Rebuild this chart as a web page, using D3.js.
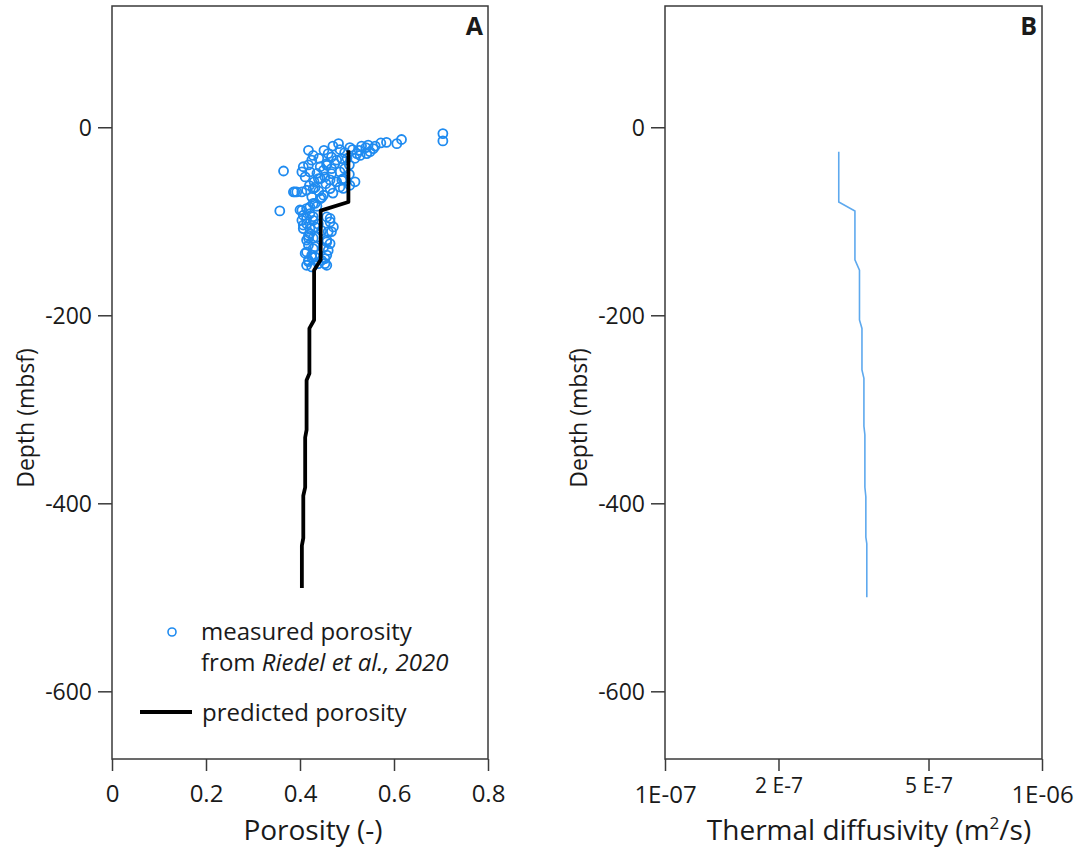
<!DOCTYPE html>
<html>
<head>
<meta charset="utf-8">
<script src="https://cdn.jsdelivr.net/npm/d3@7"></script>
<style>
  html, body { margin: 0; padding: 0; background: #fff; }
  svg { display: block; }
  text { font-family: "Open Sans", "Noto Sans", sans-serif; fill: #1a1a1a; }
</style>
</head>
<body>
<svg id="chart" width="1080" height="854"></svg>
<script>
// Measured porosity (Riedel et al., 2020): porosity (-) and depth (mbsf)
const measuredPorosity = [
  0.704, 0.704, 0.616, 0.606, 0.584, 0.572, 0.560, 0.545, 0.540, 0.531, 0.526, 0.521, 0.512, 0.506,
  0.517, 0.528, 0.549, 0.556, 0.542, 0.482, 0.485, 0.451, 0.418, 0.428, 0.425, 0.467, 0.478, 0.457,
  0.443, 0.407, 0.404, 0.365, 0.421, 0.436, 0.450, 0.467, 0.485, 0.492, 0.517, 0.478, 0.464, 0.453,
  0.439, 0.411, 0.485, 0.464, 0.492, 0.432, 0.414, 0.404, 0.393, 0.386, 0.425, 0.446, 0.428, 0.414,
  0.357, 0.400, 0.407, 0.421, 0.457, 0.464, 0.404, 0.414, 0.428, 0.432, 0.407, 0.471, 0.467, 0.421,
  0.428, 0.414, 0.457, 0.464, 0.418, 0.432, 0.460, 0.414, 0.425, 0.457, 0.418, 0.446, 0.453, 0.414,
  0.425, 0.439, 0.489, 0.457, 0.474, 0.467, 0.443, 0.489, 0.389, 0.428, 0.450, 0.506, 0.436, 0.446,
  0.418, 0.432, 0.450, 0.439,
  0.404, 0.421, 0.432, 0.443, 0.414, 0.428, 0.464, 0.460, 0.421, 0.407, 0.418, 0.436, 0.457, 0.428,
  0.411, 0.425, 0.453, 0.418, 0.457, 0.470, 0.495, 0.460, 0.500, 0.505, 0.495, 0.505, 0.440, 0.418,
  0.430, 0.420, 0.455, 0.470, 0.440
];
const measuredDepth = [
  -6.7, -14.5, -13.0, -17.4, -16.0, -16.7, -20.0, -19.0, -21.6, -20.0, -24.5, -28.0, -23.7, -21.6,
  -33.0, -30.0, -26.0, -22.7, -28.0, -17.4, -23.7, -24.5, -24.5, -30.0, -35.0, -31.6, -35.0, -38.7,
  -42.0, -42.0, -47.5, -46.5, -47.5, -49.0, -45.7, -44.0, -47.5, -54.6, -58.0, -58.0, -56.0, -52.8,
  -54.6, -52.8, -63.5, -65.2, -65.0, -64.0, -67.0, -68.8, -68.8, -68.8, -74.0, -74.8, -81.0, -86.5,
  -89.0, -88.0, -93.6, -91.8, -95.4, -100.7, -99.0, -102.5, -99.0, -106.0, -107.8, -106.0, -111.0, -113.0,
  -118.0, -120.0, -120.0, -123.7, -125.5, -127.0, -131.0, -132.7, -136.0, -136.0, -141.5, -141.5, -145.0, -146.8,
  -148.6, -145.0, -33.3, -40.4, -38.6, -49.3, -54.6, -56.4, -68.8, -65.2, -72.3, -61.7, -84.0, -110.0,
  -115.0, -138.0, -128.0, -103.0,
  -88.3, -84.8, -81.0, -75.9, -97.0, -95.0, -97.0, -111.0, -107.8, -104.0, -118.0, -116.7, -122.0, -129.0,
  -134.0, -138.0, -139.7, -143.0, -146.8, -20.0, -27.0, -28.0, -33.0, -40.0, -44.0, -50.0, -33.0, -40.0,
  -58.0, -62.0, -60.0, -70.0, -68.0
];

// Predicted porosity profile
const predictedDepth = [-24.5, -79.5, -88.6, -141, -152, -205, -214, -262, -269, -322, -330, -383, -392, -437, -445, -490];
const predictedPorosity = [0.503, 0.503, 0.444, 0.444, 0.430, 0.430, 0.420, 0.420, 0.414, 0.414, 0.411, 0.411, 0.407, 0.407, 0.404, 0.404];

// Thermal diffusivity profile (m²/s)
const diffusivityDepth = [-26, -79.5, -89, -141, -152, -205, -214, -258, -267, -318, -327, -383, -393, -436, -443, -500];
const diffusivityValue = [2.89e-7, 2.89e-7, 3.19e-7, 3.19e-7, 3.28e-7, 3.28e-7, 3.33e-7, 3.33e-7, 3.37e-7, 3.37e-7, 3.39e-7, 3.39e-7, 3.41e-7, 3.41e-7, 3.43e-7, 3.43e-7];

// Axis ticks
const depthTicks = [0, -200, -400, -600];
const porosityTicks = [0, 0.2, 0.4, 0.6, 0.8];
const porosityTickLabels = ["0", "0.2", "0.4", "0.6", "0.8"];
const diffusivityTicks = [1e-7, 2e-7, 5e-7, 1e-6];
const diffusivityTickLabels = ["1E-07", "2 E-7", "5 E-7", "1E-06"];

const svg = d3.select("#chart");
const frameColor = "#3a3a3a";
const pointColor = "#1f8bf0";
const diffColor = "#5ea9ee";
const textColor = "#1a1a1a";

const plotTop = 6, plotBottom = 759;
const y = d3.scaleLinear().domain([129, -672]).range([plotTop, plotBottom]);

const xA = d3.scaleLinear().domain([0, 0.8]).range([112, 488]);
const xB = d3.scaleLog().domain([1e-7, 1e-6]).range([665, 1042]);

function drawFrame(x) {
  const [x0, x1] = x.range();
  const g = svg.append("g");
  g.append("rect")
    .attr("x", x0).attr("y", plotTop)
    .attr("width", x1 - x0).attr("height", plotBottom - plotTop)
    .attr("fill", "none").attr("stroke", frameColor).attr("stroke-width", 1.5);

  // depth axis on the left edge (plain hyphen for negatives)
  const yAxis = g.append("g")
    .attr("transform", `translate(${x0},0)`)
    .call(d3.axisLeft(y).tickValues(depthTicks).tickSize(14).tickPadding(6).tickFormat(d => String(d)));
  yAxis.select(".domain").remove();
  yAxis.selectAll(".tick line").attr("stroke", frameColor).attr("stroke-width", 1.5);
  yAxis.selectAll(".tick text")
    .attr("font-size", 23).attr("fill", textColor)
    .attr("font-family", "'Open Sans', sans-serif")
    .attr("dy", "0.36em");

  g.append("text")
    .attr("transform", `translate(${x0 - 78},${418}) rotate(-90)`)
    .attr("text-anchor", "middle")
    .attr("font-size", 23)
    .text("Depth (mbsf)");
  return g;
}

// ---------- Panel A: porosity ----------
const gA = drawFrame(xA);

const xAxisA = gA.append("g")
  .attr("transform", `translate(0,${plotBottom})`)
  .call(d3.axisBottom(xA).tickValues(porosityTicks).tickSize(12)
    .tickFormat((d, i) => porosityTickLabels[i]));
xAxisA.select(".domain").remove();
xAxisA.selectAll(".tick line").attr("stroke", frameColor).attr("stroke-width", 1.5);
xAxisA.selectAll(".tick text")
  .attr("font-size", 24).attr("fill", textColor)
  .attr("font-family", "'Open Sans', sans-serif")
  .attr("y", 43).attr("dy", 0);

gA.append("text")
  .attr("x", 313).attr("y", 840)
  .attr("text-anchor", "middle")
  .attr("font-size", 28)
  .text("Porosity (-)");

gA.append("text")
  .attr("x", 483).attr("y", 35)
  .attr("text-anchor", "end")
  .attr("font-size", 25).attr("font-weight", "bold")
  .text("A");

// measured points
const measured = measuredPorosity.map((p, i) => ({ p, d: measuredDepth[i] }));
gA.append("g")
  .selectAll("circle")
  .data(measured)
  .join("circle")
  .attr("cx", d => xA(d.p))
  .attr("cy", d => y(d.d))
  .attr("r", 4.5)
  .attr("fill", "none")
  .attr("stroke", pointColor)
  .attr("stroke-width", 1.8);

// predicted porosity line
const predicted = predictedPorosity.map((p, i) => ({ p, d: predictedDepth[i] }));
gA.append("path")
  .datum(predicted)
  .attr("fill", "none")
  .attr("stroke", "#000")
  .attr("stroke-width", 3.8)
  .attr("stroke-linejoin", "round")
  .attr("d", d3.line().x(d => xA(d.p)).y(d => y(d.d)));

// legend
const legend = gA.append("g");
legend.append("circle")
  .attr("cx", 172).attr("cy", 632).attr("r", 4)
  .attr("fill", "none").attr("stroke", pointColor).attr("stroke-width", 1.6);
legend.append("text")
  .attr("x", 201).attr("y", 640)
  .attr("font-size", 24)
  .text("measured porosity");
const src = legend.append("text")
  .attr("x", 201).attr("y", 671)
  .attr("font-size", 24);
src.append("tspan").text("from ");
src.append("tspan").attr("font-style", "italic").text("Riedel et al., 2020");
legend.append("line")
  .attr("x1", 140).attr("x2", 192)
  .attr("y1", 712).attr("y2", 712)
  .attr("stroke", "#000").attr("stroke-width", 3.8);
legend.append("text")
  .attr("x", 202).attr("y", 721)
  .attr("font-size", 24)
  .text("predicted porosity");

// ---------- Panel B: thermal diffusivity ----------
const gB = drawFrame(xB);

const isEnd = i => i === 0 || i === diffusivityTicks.length - 1;
const xAxisB = gB.append("g")
  .attr("transform", `translate(0,${plotBottom})`)
  .call(d3.axisBottom(xB).tickValues(diffusivityTicks).tickSize(12)
    .tickFormat((d, i) => diffusivityTickLabels[i]));
xAxisB.select(".domain").remove();
xAxisB.selectAll(".tick line").attr("stroke", frameColor).attr("stroke-width", 1.5);
xAxisB.selectAll(".tick text")
  .attr("fill", textColor)
  .attr("font-family", "'Open Sans', sans-serif")
  .attr("font-size", (d, i) => isEnd(i) ? 24 : 21)
  .attr("y", (d, i) => isEnd(i) ? 44 : 34)
  .attr("dy", 0);

const titleB = gB.append("text")
  .attr("x", 869).attr("y", 840)
  .attr("text-anchor", "middle")
  .attr("font-size", 28);
titleB.append("tspan").text("Thermal diffusivity (m");
titleB.append("tspan").attr("font-size", 17).attr("dy", -11).text("2");
titleB.append("tspan").attr("dy", 11).text("/s)");

gB.append("text")
  .attr("x", 1037).attr("y", 35)
  .attr("text-anchor", "end")
  .attr("font-size", 25).attr("font-weight", "bold")
  .text("B");

const diffusivity = diffusivityValue.map((v, i) => ({ v, d: diffusivityDepth[i] }));
gB.append("path")
  .datum(diffusivity)
  .attr("fill", "none")
  .attr("stroke", diffColor)
  .attr("stroke-width", 1.6)
  .attr("d", d3.line().x(d => xB(d.v)).y(d => y(d.d)));
</script>
</body>
</html>
